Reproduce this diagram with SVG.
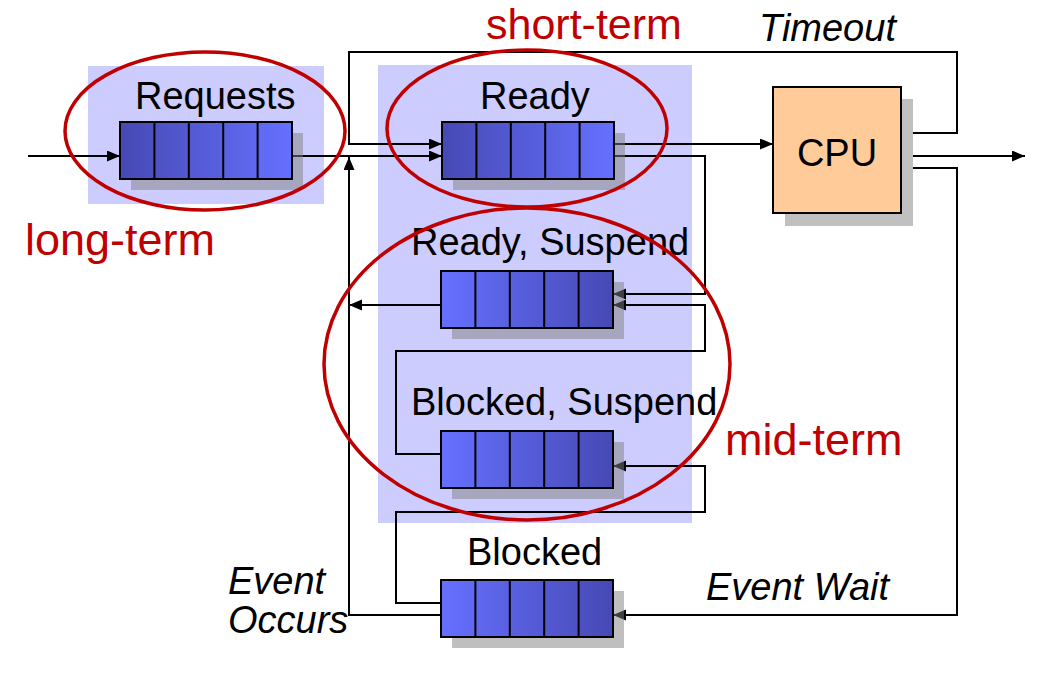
<svg xmlns="http://www.w3.org/2000/svg" xmlns:xlink="http://www.w3.org/1999/xlink" width="1064" height="674" viewBox="0 0 1064 674">
<style>
.bg{fill:#ccccff}
.ln{fill:none;stroke:#000;stroke-width:2;stroke-linejoin:miter}
.arr{marker-end:url(#ah)}
.qbox{stroke:#000;stroke-width:2}
.div{stroke:#000;stroke-width:2}
.shadow{fill:#808080;fill-opacity:0.5}
.lbl{font-family:"Liberation Sans",Arial,sans-serif;font-size:38px;fill:#000}
.it{font-style:italic}
.red{font-family:"Liberation Sans",Arial,sans-serif;font-size:45px;fill:#c00000}
.ell{fill:none;stroke:#c00000;stroke-width:3.5}
</style>
<defs>
<marker id="ah" markerUnits="userSpaceOnUse" markerWidth="14" markerHeight="12" refX="13" refY="5.5" orient="auto">
<path d="M0,0 L13,5.5 L0,11 Z" fill="#000"/>
</marker>
<linearGradient id="gFwd" x1="0" y1="0" x2="1" y2="0">
<stop offset="0" stop-color="#4649b4"/>
<stop offset="1" stop-color="#6670ff"/>
</linearGradient>
<linearGradient id="gRev" x1="0" y1="0" x2="1" y2="0">
<stop offset="0" stop-color="#6670ff"/>
<stop offset="1" stop-color="#4649b4"/>
</linearGradient>
<g id="cells">
<line class="div" x1="34.4" y1="0" x2="34.4" y2="57"/>
<line class="div" x1="68.8" y1="0" x2="68.8" y2="57"/>
<line class="div" x1="103.2" y1="0" x2="103.2" y2="57"/>
<line class="div" x1="137.6" y1="0" x2="137.6" y2="57"/>
</g>
<g id="qFwd">
<rect class="shadow" x="11" y="11" width="172" height="57"/>
<rect class="qbox" x="0" y="0" width="172" height="57" fill="url(#gFwd)"/>
<use xlink:href="#cells"/>
</g>
<g id="qRev">
<rect class="shadow" x="11" y="11" width="172" height="57"/>
<rect class="qbox" x="0" y="0" width="172" height="57" fill="url(#gRev)"/>
<use xlink:href="#cells"/>
</g>
</defs>
<rect width="1064" height="674" fill="#fff"/>
<g id="backgrounds">
<rect class="bg" x="88" y="66" width="236" height="138"/>
<rect class="bg" x="378" y="65" width="314" height="458"/>
</g>
<g id="connectors">
<path class="ln arr" d="M28,156 H120"/>
<path class="ln arr" d="M292,156 H442"/>
<path class="ln arr" d="M901,133 H957 V52 H349 V144 H442"/>
<path class="ln arr" d="M613,144 H773"/>
<path class="ln arr" d="M613,156 H705 V294 H613"/>
<path class="ln arr" d="M441,454 H396 V351 H705 V305 H613"/>
<path class="ln arr" d="M441,305 H349"/>
<path class="ln arr" d="M441,603 H396 V512 H705 V466 H613"/>
<path class="ln arr" d="M441,615 H349 V157"/>
<path class="ln arr" d="M901,156 H1025"/>
<path class="ln arr" d="M901,168 H957 V615 H613"/>
</g>
<g id="requests">
<use xlink:href="#qFwd" x="120" y="122"/>
<text class="lbl" x="135" y="109">Requests</text>
</g>
<g id="ready">
<use xlink:href="#qFwd" x="442" y="122"/>
<text class="lbl" x="480" y="109">Ready</text>
</g>
<g id="ready-suspend">
<use xlink:href="#qRev" x="441" y="271"/>
<text class="lbl" x="411" y="255">Ready, Suspend</text>
</g>
<g id="blocked-suspend">
<use xlink:href="#qRev" x="441" y="431"/>
<text class="lbl" x="411" y="415">Blocked, Suspend</text>
</g>
<g id="blocked">
<use xlink:href="#qRev" x="441" y="580"/>
<text class="lbl" x="467" y="565">Blocked</text>
</g>
<g id="cpu">
<rect x="785" y="99" width="128" height="127" fill="#c0c0c0"/>
<rect x="773" y="87" width="128" height="126" fill="#ffcc99" stroke="#000" stroke-width="2"/>
<text class="lbl" x="837" y="166" text-anchor="middle">CPU</text>
</g>
<g id="edge-labels">
<text class="lbl it" x="759" y="41">Timeout</text>
<text class="lbl it" x="228" y="594">Event</text>
<text class="lbl it" x="228" y="633">Occurs</text>
<text class="lbl it" x="706" y="600">Event Wait</text>
</g>
<g id="schedulers">
<ellipse class="ell" cx="205" cy="131" rx="140" ry="79"/>
<ellipse class="ell" cx="527" cy="128.5" rx="140" ry="78.5"/>
<ellipse class="ell" cx="527" cy="364" rx="203" ry="156"/>
<text class="red" x="486" y="39" style="font-size:43px">short-term</text>
<text class="red" x="25" y="255">long-term</text>
<text class="red" x="725" y="455">mid-term</text>
</g>
</svg>
